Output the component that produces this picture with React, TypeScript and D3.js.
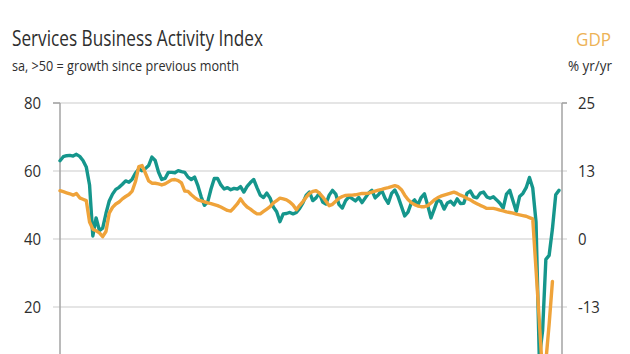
import React from "react";
import * as d3 from "d3";

// Services business activity index, monthly (sa, >50 = growth)
const activityIndex = [
  63.0, 64.2, 64.5, 64.6, 64.4, 64.9, 64.3, 63.1, 61.2, 55.9,
  40.9, 46.2, 42.5, 43.2, 47.5, 51.2, 53.2, 54.6, 55.2, 56.1,
  57.1, 56.7, 57.6, 59.4, 60.6, 60.1, 60.7, 61.6, 64.1, 63.1,
  59.7, 57.5, 57.8, 59.6, 59.6, 59.5, 60.1, 59.8, 59.6, 58.2,
  57.5, 58.2, 55.7, 52.4, 49.9, 50.9, 54.7, 57.8, 57.8, 55.9,
  54.7, 55.1, 54.5, 54.9, 54.7, 55.4, 53.8, 55.5, 56.6, 57.5,
  55.1, 52.9, 52.2, 53.5, 52.0, 49.4, 48.0, 45.1, 47.4, 47.5,
  47.8, 47.4, 47.8, 49.0, 50.6, 52.9, 53.8, 51.3, 52.1, 53.5,
  50.9, 50.3, 52.9, 54.3, 53.2, 50.1, 49.1, 51.3, 52.4, 51.9,
  51.2, 52.2, 50.7, 52.1, 53.5, 54.3, 52.1, 53.0, 54.3, 52.0,
  50.5, 53.4, 54.4, 52.4, 49.6, 46.8, 47.9, 50.6, 51.5, 50.0,
  52.2, 53.3, 49.9, 46.2, 48.8, 51.5, 51.0, 48.8, 50.6, 51.1,
  50.0, 51.8, 50.4, 50.5, 53.5, 54.1, 52.4, 52.1, 53.5, 53.8,
  52.4, 52.0, 52.4, 51.5, 50.5, 49.1, 53.2, 54.3, 51.2, 48.1,
  52.5, 53.4, 55.1, 58.1, 55.0, 45.0, 5.0, 13.0, 34.0, 35.2,
  43.0, 53.0, 54.3,
];

// GDP % yr/yr, drawn on the left-axis scale (right axis = (left - 40) * 0.625)
const gdpOnIndexScale = [
  54.2, 53.9, 53.6, 53.3, 52.9, 53.4, 52.1, 51.7, 51.3, 45.0,
  42.9, 42.4, 41.8, 40.7, 42.2, 47.6, 49.3, 50.3, 50.9, 51.8,
  52.5, 53.1, 54.1, 56.9, 61.3, 61.6, 59.4, 57.1, 56.4, 56.4,
  56.2, 55.9, 56.2, 56.8, 57.4, 57.5, 57.2, 56.5, 54.1, 54.0,
  53.0, 52.2, 51.5, 51.2, 50.9, 50.6, 50.4, 50.1, 49.8, 49.4,
  48.9, 48.4, 48.2, 49.2, 50.3, 51.8, 50.4, 49.4, 48.8, 48.0,
  47.4, 47.4, 48.1, 48.8, 49.5, 50.6, 51.3, 52.0, 51.8, 51.5,
  50.9, 50.0, 48.6, 49.9, 51.0, 52.3, 53.4, 54.0, 54.2, 53.5,
  52.4, 51.1, 49.8, 50.2, 51.1, 52.0, 52.5, 52.8, 52.9, 52.9,
  53.0, 53.2, 53.4, 53.4, 53.5, 53.8, 54.1, 54.4, 54.6, 54.9,
  55.1, 55.4, 55.7, 55.4, 54.5, 52.9, 51.6, 50.7, 50.1, 49.7,
  49.5, 49.5, 49.8, 50.6, 51.5, 52.1, 52.6, 52.9, 53.2, 53.5,
  53.8, 53.4, 52.9, 52.5, 51.9, 51.5, 50.9, 50.4, 49.9, 49.5,
  49.0, 49.0, 49.0, 48.8, 48.5, 48.3, 48.0, 47.8, 47.6, 47.3,
  47.1, 46.9, 46.7, 46.3, 45.9, 31.0, 16.0, 0.0, 4.0, 15.0,
  27.5,
];

const leftTicks = [20, 40, 60, 80];
const rightTicks = [-12.5, 0, 12.5, 25];

const TEAL = "#15968c";
const ORANGE = "#efa33a";
const FONT = "'Open Sans', 'Noto Sans', sans-serif";

const W = 630;
const H = 354;

export default function App() {
  const x = d3
    .scaleLinear()
    .domain([0, activityIndex.length - 1])
    .range([60, 559]);
  const yLeft = d3.scaleLinear().domain([0, 80]).range([375, 103]);
  const yRight = d3.scaleLinear().domain([-25, 25]).range([375, 103]);

  const line = d3
    .line<number>()
    .x((_, i) => x(i))
    .y((d) => yLeft(d));

  const axisLeftX = 60;
  const axisRightX = 562;

  // narrow lettering for tick labels
  const squeeze = (tx: number, ty: number) =>
    `translate(${tx},${ty}) scale(0.88,1)`;

  return (
    <svg
      width={W}
      height={H}
      style={{ position: "fixed", left: 0, top: 0, background: "#fff" }}
      fontFamily={FONT}
    >
      <rect width={W} height={H} fill="#fff" />

      {/* titles */}
      <text x={12} y={46} fontSize={21} fill="#2e2e2e" textLength={251} lengthAdjust="spacingAndGlyphs">
        Services Business Activity Index
      </text>
      <text x={12} y={71} fontSize={14} fill="#2e2e2e" textLength={227} lengthAdjust="spacingAndGlyphs">
        sa, &gt;50 = growth since previous month
      </text>
      <text x={576} y={46} fontSize={19} fill="#edb256" textLength={35} lengthAdjust="spacingAndGlyphs">
        GDP
      </text>
      <text x={568} y={71} fontSize={14} fill="#2e2e2e" textLength={44} lengthAdjust="spacingAndGlyphs">
        % yr/yr
      </text>

      {/* gridlines */}
      {leftTicks.map((t) => (
        <line
          key={t}
          x1={53}
          x2={567}
          y1={yLeft(t)}
          y2={yLeft(t)}
          stroke="#dcdcdc"
          strokeWidth={1.5}
        />
      ))}

      {/* axes */}
      <line x1={axisLeftX} x2={axisLeftX} y1={yLeft(80)} y2={H} stroke="#a3a3a3" strokeWidth={1.5} />
      <line x1={axisRightX} x2={axisRightX} y1={yLeft(80)} y2={H} stroke="#a3a3a3" strokeWidth={1.5} />
      <line x1={53} x2={axisLeftX} y1={yLeft(80)} y2={yLeft(80)} stroke="#a3a3a3" strokeWidth={1.5} />
      <line x1={axisRightX} x2={567} y1={yLeft(80)} y2={yLeft(80)} stroke="#a3a3a3" strokeWidth={1.5} />

      {leftTicks.map((t) => (
        <g key={t} transform={squeeze(41, yLeft(t) + 6)}>
          <text fontSize={17} fill="#2e2e2e" textAnchor="end">
            {t}
          </text>
        </g>
      ))}
      {rightTicks.map((t) => (
        <g key={t} transform={squeeze(578, yRight(t) + 6)}>
          <text fontSize={17} fill="#2e2e2e">
            {t.toFixed(0)}
          </text>
        </g>
      ))}

      {/* series */}
      <path
        d={line(activityIndex) ?? ""}
        fill="none"
        stroke={TEAL}
        strokeWidth={3.4}
        strokeLinejoin="round"
        strokeLinecap="round"
      />
      <path
        d={line(gdpOnIndexScale) ?? ""}
        fill="none"
        stroke={ORANGE}
        strokeWidth={3.4}
        strokeLinejoin="round"
        strokeLinecap="round"
      />
    </svg>
  );
}
